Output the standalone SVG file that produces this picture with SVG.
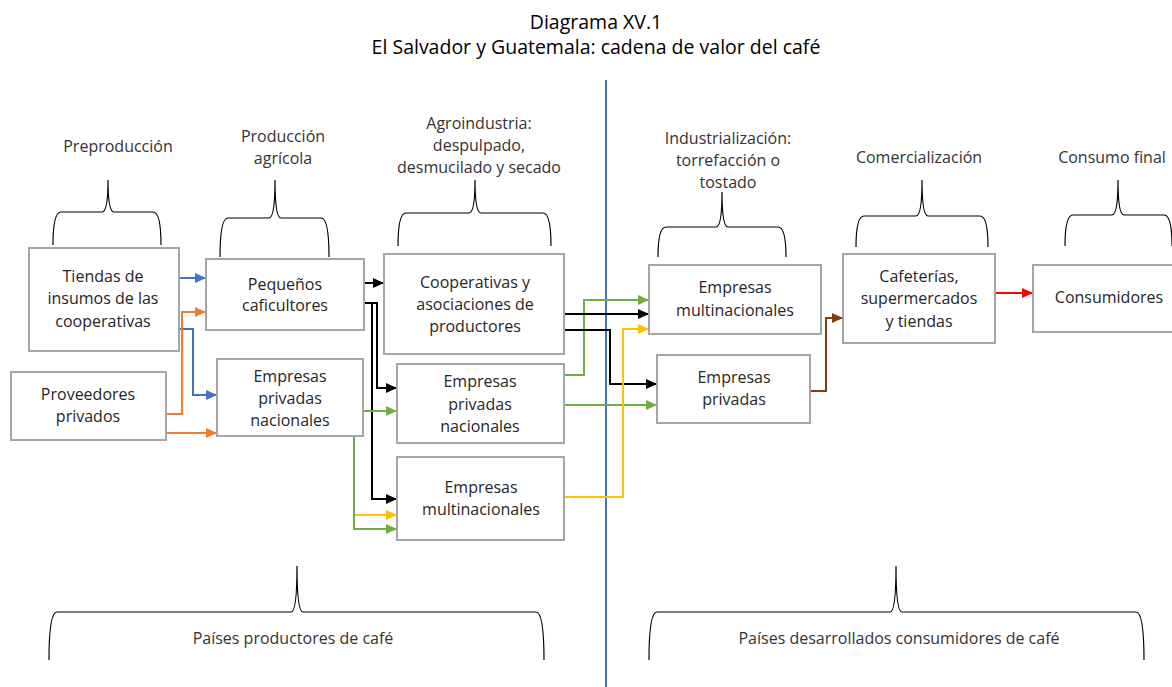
<svg xmlns="http://www.w3.org/2000/svg" width="1172" height="687" viewBox="0 0 1172 687">
<style>
text{font-family:"Open Sans","Noto Sans","Liberation Sans",sans-serif;fill:#262626;text-anchor:middle}
.n{font-size:16px}
.h{font-size:16px;fill:#333}
.t{font-size:19.5px;fill:#000}
.box{fill:#fff;stroke:#a6a6a6;stroke-width:2}
.br{fill:none;stroke:#000;stroke-width:1.2}
.c{fill:none;stroke-width:2}
</style>
<defs>
<marker id="aBk" markerUnits="userSpaceOnUse" markerWidth="11" markerHeight="10" refX="11" refY="5" orient="auto"><path d="M0,0 L11,5 L0,10 z" fill="#000"/></marker>
<marker id="aBl" markerUnits="userSpaceOnUse" markerWidth="11" markerHeight="10" refX="11" refY="5" orient="auto"><path d="M0,0 L11,5 L0,10 z" fill="#4472c4"/></marker>
<marker id="aOr" markerUnits="userSpaceOnUse" markerWidth="11" markerHeight="10" refX="11" refY="5" orient="auto"><path d="M0,0 L11,5 L0,10 z" fill="#ed7d31"/></marker>
<marker id="aGr" markerUnits="userSpaceOnUse" markerWidth="11" markerHeight="10" refX="11" refY="5" orient="auto"><path d="M0,0 L11,5 L0,10 z" fill="#70ad47"/></marker>
<marker id="aYe" markerUnits="userSpaceOnUse" markerWidth="11" markerHeight="10" refX="11" refY="5" orient="auto"><path d="M0,0 L11,5 L0,10 z" fill="#ffc000"/></marker>
<marker id="aBr" markerUnits="userSpaceOnUse" markerWidth="11" markerHeight="10" refX="11" refY="5" orient="auto"><path d="M0,0 L11,5 L0,10 z" fill="#843c0c"/></marker>
<marker id="aRd" markerUnits="userSpaceOnUse" markerWidth="11" markerHeight="10" refX="11" refY="5" orient="auto"><path d="M0,0 L11,5 L0,10 z" fill="#ff0000"/></marker>
</defs>
<rect width="1172" height="687" fill="#fff"/>

<g id="title">
<text class="t" x="596" y="29">Diagrama XV.1</text>
<text class="t" x="596" y="54">El Salvador y Guatemala: cadena de valor del café</text>
</g>

<g id="divider"><line x1="606" y1="80" x2="606" y2="687" stroke="#4472c4" stroke-width="2"/></g>

<g id="stages">
<g id="stage-preproduccion">
<text class="h" x="118" y="152">Preproducción</text>
<path class="br" d="M53,245 Q53,212 61,212 L102,212 Q108,212 108,180 Q108,212 114,212 L153,212 Q161,212 161,245"/>
</g>
<g id="stage-produccion">
<text class="h" x="283" y="142">Producción</text>
<text class="h" x="283" y="164">agrícola</text>
<path class="br" d="M220,257 Q220,218 228,218 L269,218 Q275,218 275,180 Q275,218 281,218 L321,218 Q329,218 329,257"/>
</g>
<g id="stage-agroindustria">
<text class="h" x="479" y="129">Agroindustria:</text>
<text class="h" x="479" y="151">despulpado,</text>
<text class="h" x="479" y="173">desmucilado y secado</text>
<path class="br" d="M398,246 Q398,213 406,213 L469,213 Q475,213 475,180 Q475,213 481,213 L543,213 Q551,213 551,246"/>
</g>
<g id="stage-industrializacion">
<text class="h" x="728" y="144">Industrialización:</text>
<text class="h" x="728" y="166">torrefacción o</text>
<text class="h" x="728" y="188">tostado</text>
<path class="br" d="M658,257 Q658,227 666,227 L716,227 Q722,227 722,192 Q722,227 728,227 L778,227 Q786,227 786,257"/>
</g>
<g id="stage-comercializacion">
<text class="h" x="919" y="163">Comercialización</text>
<path class="br" d="M856,247 Q856,216 864,216 L916,216 Q922,216 922,180 Q922,216 928,216 L980,216 Q988,216 988,247"/>
</g>
<g id="stage-consumo">
<text class="h" x="1112" y="163">Consumo final</text>
<path class="br" d="M1065,246 Q1065,215 1073,215 L1112,215 Q1118,215 1118,180 Q1118,215 1124,215 L1164,215 Q1172,215 1172,246"/>
</g>
<g id="group-productores">
<path class="br" d="M49,660 Q49,612 57,612 L291,612 Q297,612 297,566 Q297,612 303,612 L536,612 Q544,612 544,660"/>
<text class="h" x="293" y="644">Países productores de café</text>
</g>
<g id="group-consumidores">
<path class="br" d="M649,660 Q649,612 657,612 L890,612 Q896,612 896,566 Q896,612 902,612 L1136,612 Q1144,612 1144,660"/>
<text class="h" x="899" y="644">Países desarrollados consumidores de café</text>
</g>
</g>

<g id="connectors">
<path class="c" stroke="#4472c4" d="M179,278 H206" marker-end="url(#aBl)"/>
<path class="c" stroke="#4472c4" d="M179,329 H193 V395 H217" marker-end="url(#aBl)"/>
<path class="c" stroke="#ed7d31" d="M166,414 H182 V312 H206" marker-end="url(#aOr)"/>
<path class="c" stroke="#ed7d31" d="M167,433 H217" marker-end="url(#aOr)"/>
<path class="c" stroke="#000" d="M364,283 H384" marker-end="url(#aBk)"/>
<path class="c" stroke="#000" d="M364,303 H377 V388 H397" marker-end="url(#aBk)"/>
<path class="c" stroke="#000" d="M364,303 H372 V499 H397" marker-end="url(#aBk)"/>
<path class="c" stroke="#70ad47" d="M363,411 H397" marker-end="url(#aGr)"/>
<path class="c" stroke="#70ad47" d="M354,437 V529 H397" marker-end="url(#aGr)"/>
<path class="c" stroke="#ffc000" d="M355,515 H397" marker-end="url(#aYe)"/>
<path class="c" stroke="#70ad47" d="M564,375 H584 V300 H649" marker-end="url(#aGr)"/>
<path class="c" stroke="#000" d="M564,314 H649" marker-end="url(#aBk)"/>
<path class="c" stroke="#000" d="M564,330 H610 V384 H657" marker-end="url(#aBk)"/>
<path class="c" stroke="#70ad47" d="M564,405 H657" marker-end="url(#aGr)"/>
<path class="c" stroke="#ffc000" d="M564,497 H623 V329 H649" marker-end="url(#aYe)"/>
<path class="c" stroke="#843c0c" d="M810,391 H826 V318 H843" marker-end="url(#aBr)"/>
<path class="c" stroke="#ff0000" d="M995,293 H1033" marker-end="url(#aRd)"/>
</g>

<g id="node-tiendas">
<rect class="box" x="29" y="248" width="150" height="103"/>
<text class="n" x="103" y="282">Tiendas de</text>
<text class="n" x="103" y="304">insumos de las</text>
<text class="n" x="103" y="327">cooperativas</text>
</g>
<g id="node-proveedores">
<rect class="box" x="11" y="372" width="155" height="68"/>
<text class="n" x="88" y="400">Proveedores</text>
<text class="n" x="88" y="422">privados</text>
</g>
<g id="node-pequenos">
<rect class="box" x="206" y="259" width="158" height="71"/>
<text class="n" x="285" y="290">Pequeños</text>
<text class="n" x="285" y="311">caficultores</text>
</g>
<g id="node-epn1">
<rect class="box" x="217" y="359" width="146" height="77"/>
<text class="n" x="290" y="382">Empresas</text>
<text class="n" x="290" y="404">privadas</text>
<text class="n" x="290" y="426">nacionales</text>
</g>
<g id="node-cooperativas">
<rect class="box" x="384" y="254" width="180" height="100"/>
<text class="n" x="475" y="288">Cooperativas y</text>
<text class="n" x="475" y="310">asociaciones de</text>
<text class="n" x="475" y="332">productores</text>
</g>
<g id="node-epn2">
<rect class="box" x="397" y="364" width="167" height="79"/>
<text class="n" x="480" y="387">Empresas</text>
<text class="n" x="480" y="410">privadas</text>
<text class="n" x="480" y="432">nacionales</text>
</g>
<g id="node-multi1">
<rect class="box" x="397" y="457" width="167" height="83"/>
<text class="n" x="481" y="493">Empresas</text>
<text class="n" x="481" y="515">multinacionales</text>
</g>
<g id="node-multi2">
<rect class="box" x="649" y="265" width="172" height="69"/>
<text class="n" x="735" y="293">Empresas</text>
<text class="n" x="735" y="316">multinacionales</text>
</g>
<g id="node-privadas">
<rect class="box" x="657" y="355" width="153" height="68"/>
<text class="n" x="734" y="383">Empresas</text>
<text class="n" x="734" y="405">privadas</text>
</g>
<g id="node-cafeterias">
<rect class="box" x="843" y="254" width="152" height="89"/>
<text class="n" x="919" y="282">Cafeterías,</text>
<text class="n" x="919" y="304">supermercados</text>
<text class="n" x="919" y="327">y tiendas</text>
</g>
<g id="node-consumidores">
<rect class="box" x="1033" y="265" width="145" height="67"/>
<text class="n" x="1109" y="303">Consumidores</text>
</g>
</svg>
